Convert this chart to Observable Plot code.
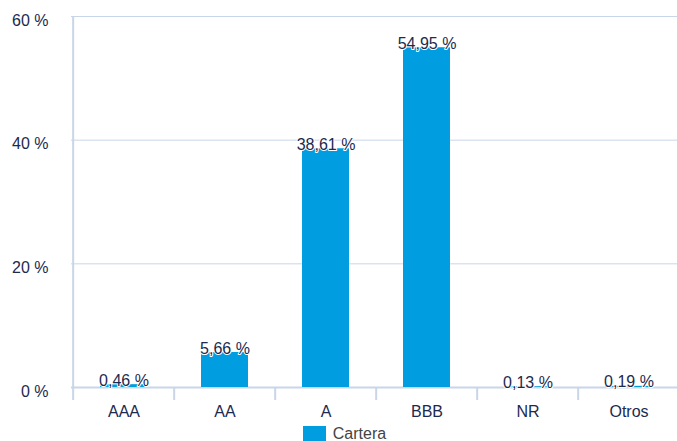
<!DOCTYPE html>
<html><head><meta charset="utf-8">
<script src="https://cdn.jsdelivr.net/npm/d3@7"></script>
<script src="https://cdn.jsdelivr.net/npm/@observablehq/plot@0.6"></script>
<style>
body{margin:0;background:#fff;font-family:"Liberation Sans",Arial,sans-serif;overflow:hidden;}
#legend{display:flex;justify-content:center;align-items:center;padding-left:12px;margin-top:7px;font-size:16px;color:#444;}
.sw{width:23px;height:16px;background:#009ee0;margin-right:7px;}
</style></head><body><div id="chart"></div><div id="legend"></div>
<script>
const categories = ["AAA","AA","A","BBB","NR","Otros"];
const values = [0.46, 5.66, 38.61, 54.95, 0.13, 0.19];
const yTicks = [0, 20, 40, 60];
const seriesName = "Cartera";

const data = categories.map((c, i) => ({cat: c, value: values[i]}));
const W = 677, H = 418, ml = 71, mr = -4, mt = 16, mb = 31;
const step = (W - ml - mr) / categories.length;
const fmt = v => v.toFixed(2).replace(".", ",") + " %";
const navy = "#1b2a4e", grid = "#c8d6e8", blue = "#009ee0";
const font = '"Liberation Sans", Arial, sans-serif';

const chart = Plot.plot({
  width: W, height: H, marginLeft: ml, marginRight: mr, marginTop: mt, marginBottom: mb,
  style: {fontFamily: font, fontSize: "16px", color: navy, background: "#fff", overflow: "visible"},
  x: {domain: categories, paddingInner: 0.53, paddingOuter: 0.265, label: null},
  y: {domain: [0, 60], label: null},
  marks: [
    Plot.gridY(yTicks, {stroke: grid, strokeOpacity: 1, strokeWidth: 1}),
    Plot.ruleY([0], {stroke: grid, strokeWidth: 2}),
    Plot.ruleX(categories.slice(1), {x: d => d, dx: -step / 2, stroke: grid, strokeWidth: 2, insetTop: H - mt - mb, insetBottom: -13}),
    Plot.ruleX([categories[0]], {x: d => d, dx: -step / 2, stroke: grid, strokeWidth: 2, insetBottom: -13}),
    Plot.barY(data, {x: "cat", y: "value", fill: blue}),
    Plot.text(data, {x: "cat", y: "value", text: d => fmt(d.value), lineAnchor: "bottom", dy: 1, fill: navy, stroke: "white", strokeWidth: 2, paintOrder: "stroke", fontSize: 16}),
    Plot.axisY(yTicks, {tickSize: 0, tickPadding: 23, tickFormat: d => d + " %", dy: 4, fill: navy, fontSize: 16, label: null}),
    Plot.axisX({tickSize: 0, tickPadding: 18, fill: navy, fontSize: 16, label: null})
  ]
});
document.getElementById("chart").appendChild(chart);
const lg = document.getElementById("legend");
lg.innerHTML = `<div class="sw"></div><span>${seriesName}</span>`;
</script></body></html>
